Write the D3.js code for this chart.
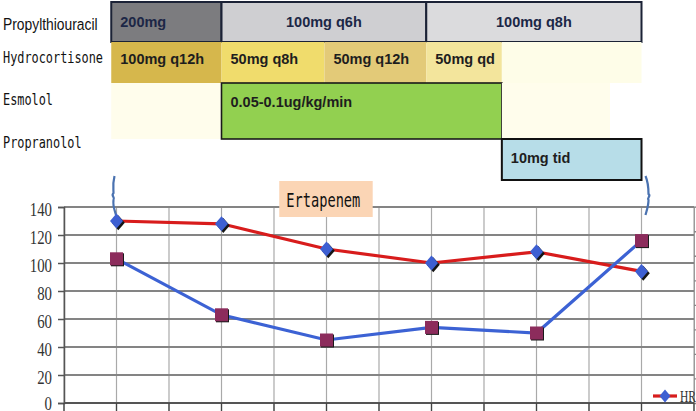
<!DOCTYPE html>
<html><head><meta charset="utf-8">
<script src="https://cdn.jsdelivr.net/npm/d3@7"></script>
<style>html,body{margin:0;padding:0;background:#fff;overflow:hidden}</style>
</head><body><svg id="c" width="696" height="411"></svg>
<script>
// ---------- data ----------
const categories = ["Day 1", "Day 2", "Day 3", "Day 4", "Day 5", "Day 6"];
const hrValues = [130, 128, 110, 100, 108, 94];
const secondValues = [103, 63, 45, 54, 50, 116];
const yTicks = [0, 20, 40, 60, 80, 100, 120, 140];
const rightTicks = [0, 20, 40, 60, 80, 100, 120, 140, 160];
const drugNames = ["Propylthiouracil", "Hydrocortisone", "Esmolol", "Propranolol"];
// regimens: start/end in day units
const ptuDoses = [
  {from: 0.95, to: 2, label: "200mg"},
  {from: 2, to: 3.95, label: "100mg q6h"},
  {from: 3.95, to: 6, label: "100mg q8h"}
];
const hcDoses = [
  {from: 0.95, to: 2, label: "100mg q12h"},
  {from: 2, to: 2.98, label: "50mg q8h"},
  {from: 2.98, to: 3.95, label: "50mg q12h"},
  {from: 3.95, to: 4.67, label: "50mg qd"},
  {from: 4.67, to: 6, label: ""}
];
const esmololDoses = [
  {from: 0.95, to: 2, label: ""},
  {from: 2, to: 4.67, label: "0.05-0.1ug/kg/min"},
  {from: 4.67, to: 5.7, label: ""}
];
const propranololDoses = [{from: 4.67, to: 6, label: "10mg tid"}];
const antibiotic = {from: 2.55, to: 3.44, label: "Ertapenem"};
const legendLabel = "HR";

// ---------- layout ----------
const svg = d3.select("#c");
const L = 64, R = 694, T = 207, B = 403;
const x = d3.scaleBand().domain(categories).range([L, R]);
const xc = c => x(c) + x.bandwidth() / 2;
const day = d3.scaleLinear().domain([0.5, 6.5]).range([L, R]);
const y = d3.scaleLinear().domain([0, 140]).range([B, T]);
const yR = d3.scaleLinear().domain([0, 160]).range([B, T - 0.3]);

// ---------- treatment table ----------
const rowTop = [2, 42, 83, 139], rowBot = [42, 83, 139, 180];
const g = svg.append("g");
function cells(data, row, fills, stroke, sw, anchors, textY, textColor) {
  const gg = g.append("g");
  data.forEach((d, i) => {
    const x0 = day(d.from), x1 = day(d.to);
    gg.append("rect").attr("x", x0).attr("y", rowTop[row]).attr("width", x1 - x0)
      .attr("height", rowBot[row] - rowTop[row]).attr("fill", fills[i])
      .attr("stroke", stroke ? stroke[i] : "none").attr("stroke-width", sw);
    if (d.label) {
      const a = anchors[i];
      gg.append("text").attr("x", a === "middle" ? (x0 + x1) / 2 : x0 + 9).attr("y", textY)
        .attr("text-anchor", a).attr("font-family", "Liberation Sans, Arial, sans-serif")
        .attr("font-weight", "bold").attr("font-size", 14.5).attr("fill", textColor).text(d.label);
    }
  });
}
cells(ptuDoses, 0, ["#7c7c7f", "#cfcfd2", "#dbdbdd"], ["#1b2236", "#1b2236", "#1b2236"], 2,
  ["start", "middle", "middle"], 27, "#1c2746");
cells(hcDoses, 1, ["#d6b74c", "#f0dc6c", "#e3ca78", "#f3e59c", "#fefde8"], null, 0,
  ["start", "start", "start", "start", "start"], 64, "#1e1e1e");
cells(esmololDoses, 2, ["#fffdec", "#92d050", "#fffdec"], ["none", "#1a1a1a", "none"], 1.6,
  ["start", "start", "start"], 107, "#1e1e1e");
cells(propranololDoses, 3, ["#b7dde8"], ["#111"], 2, ["start"], 163, "#1e1e1e");

// drug names (horizontally condensed with a scale so boxes stay exact)
const nameSpecs = [
  {y: 30, font: "Liberation Sans, Arial, sans-serif", size: 16.5, sx: 0.84},
  {y: 63, font: "DejaVu Sans Mono, monospace", size: 16.5, sx: 0.72},
  {y: 105, font: "DejaVu Sans Mono, monospace", size: 16.5, sx: 0.72},
  {y: 148, font: "DejaVu Sans Mono, monospace", size: 16.5, sx: 0.72}
];
drugNames.forEach((n, i) => {
  const s = nameSpecs[i];
  g.append("text").attr("transform", `translate(3,${s.y}) scale(${s.sx},1)`)
    .attr("font-family", s.font).attr("font-size", s.size)
    .attr("fill", "#111").text(n);
});

// ---------- grid ----------
const grid = svg.append("g");
const halfDays = d3.range(0.5, 6.51, 0.5);
grid.selectAll("line.v").data(halfDays).join("line")
  .attr("x1", d => day(d)).attr("x2", d => day(d)).attr("y1", T).attr("y2", 411)
  .attr("stroke", "#a9a9a9").attr("stroke-width", 1.2);
grid.selectAll("line.h").data(yTicks.filter(d => d > 0)).join("line")
  .attr("x1", L).attr("x2", R).attr("y1", d => y(d)).attr("y2", d => y(d))
  .attr("stroke", "#848484").attr("stroke-width", 1.8);

// right axis (its labels fall outside the picture, so only ticks are drawn)
const ra = svg.append("g").attr("transform", `translate(${R},0)`)
  .call(d3.axisRight(yR).tickValues(rightTicks).tickSize(6).tickFormat(""));
ra.select(".domain").attr("stroke", "#9a9a9a");
ra.selectAll(".tick line").attr("stroke", "#888").attr("stroke-width", 1.3);

// left axis
const la = svg.append("g").attr("transform", `translate(${L},0)`)
  .call(d3.axisLeft(y).tickValues(yTicks).tickSize(6).tickPadding(6));
la.select(".domain").attr("stroke", "#555").attr("stroke-width", 1.5);
la.selectAll(".tick line").attr("stroke", "#555").attr("stroke-width", 1.5);
la.selectAll("text").attr("font-family", "Liberation Serif, serif").attr("font-size", 18)
  .attr("fill", "#333").attr("dy", d => d === 0 ? "0.38em" : "0.46em")
  .attr("textLength", d => String(d).length * 7.4).attr("lengthAdjust", "spacingAndGlyphs");

// bottom axis line
svg.append("line").attr("x1", L).attr("x2", R).attr("y1", B).attr("y2", B)
  .attr("stroke", "#555").attr("stroke-width", 1.8);
svg.selectAll("line.bt").data(halfDays).join("line")
  .attr("x1", d => day(d)).attr("x2", d => day(d)).attr("y1", B).attr("y2", 411)
  .attr("stroke", "#444").attr("stroke-width", 1.3);

// ---------- antibiotic label ----------
const ax0 = day(antibiotic.from), ax1 = day(antibiotic.to);
svg.append("rect").attr("x", ax0).attr("y", 181).attr("width", ax1 - ax0).attr("height", 36)
  .attr("fill", "#fbd5b5");
svg.append("text").attr("transform", `translate(${ax0 + 7},207) scale(0.72,1)`)
  .attr("font-family", "DejaVu Sans Mono, monospace")
  .attr("font-size", 19).attr("fill", "#111").text(antibiotic.label);

// braces
const bx0 = day(1), bx1 = day(6);
svg.append("path")
  .attr("d", `M${bx0 - 2},176 C${bx0 - 4},184 ${bx0 - 3},189 ${bx0 - 3},193 C${bx0 - 6},196 ${bx0 - 1},197 ${bx0 - 3},200 C${bx0 - 4},207 ${bx0 - 1},212 ${bx0},217`)
  .attr("fill", "none").attr("stroke", "#4a72b0").attr("stroke-width", 2.2);
svg.append("path")
  .attr("d", `M${bx1 + 4},176 C${bx1 + 7},183 ${bx1 + 7},189 ${bx1 + 7},194 C${bx1 + 10},196 ${bx1 + 5},198 ${bx1 + 7},200 C${bx1 + 7},206 ${bx1 + 5},211 ${bx1 + 4},215`)
  .attr("fill", "none").attr("stroke", "#4a72b0").attr("stroke-width", 2.2);

// ---------- series ----------
const line = d3.line().x((d, i) => xc(categories[i])).y(d => y(d));
svg.append("path").datum(hrValues).attr("d", line).attr("fill", "none")
  .attr("stroke", "#d81c1c").attr("stroke-width", 3.2);
svg.append("path").datum(secondValues).attr("d", line).attr("fill", "none")
  .attr("stroke", "#3c62d4").attr("stroke-width", 3.2);

const diamond = "M0,-7.5 L6.5,0 L0,7.5 L-6.5,0 Z";
function diamonds(sel, data) {
  const gg = sel.selectAll("g.d").data(data).join("g")
    .attr("transform", (d, i) => `translate(${xc(categories[i])},${y(d)})`);
  gg.append("path").attr("d", diamond).attr("transform", "translate(1.8,1.8)").attr("fill", "#151515");
  gg.append("path").attr("d", diamond).attr("fill", "#3d5fd2");
}
diamonds(svg.append("g"), hrValues);
const sq = svg.append("g").selectAll("g").data(secondValues).join("g")
  .attr("transform", (d, i) => `translate(${xc(categories[i])},${y(d)})`);
sq.append("rect").attr("x", -5.5).attr("y", -5.5).attr("width", 13).attr("height", 13).attr("fill", "#1a1a1a");
sq.append("rect").attr("x", -6.5).attr("y", -6.5).attr("width", 13).attr("height", 13).attr("fill", "#8c2c5c");

// ---------- legend ----------
const lg = svg.append("g").attr("transform", "translate(653,396)");
lg.append("line").attr("x1", 0).attr("x2", 24).attr("y1", 0).attr("y2", 0)
  .attr("stroke", "#d81c1c").attr("stroke-width", 3.2);
lg.append("path").attr("d", "M0,-6.5 L5.5,0 L0,6.5 L-5.5,0 Z").attr("transform", "translate(12,0)").attr("fill", "#3d5fd2");
lg.append("text").attr("transform", "translate(27,6) scale(0.72,1)").attr("font-family", "Liberation Serif, serif")
  .attr("font-size", 16).attr("fill", "#333").text(legendLabel);
</script></body></html>
